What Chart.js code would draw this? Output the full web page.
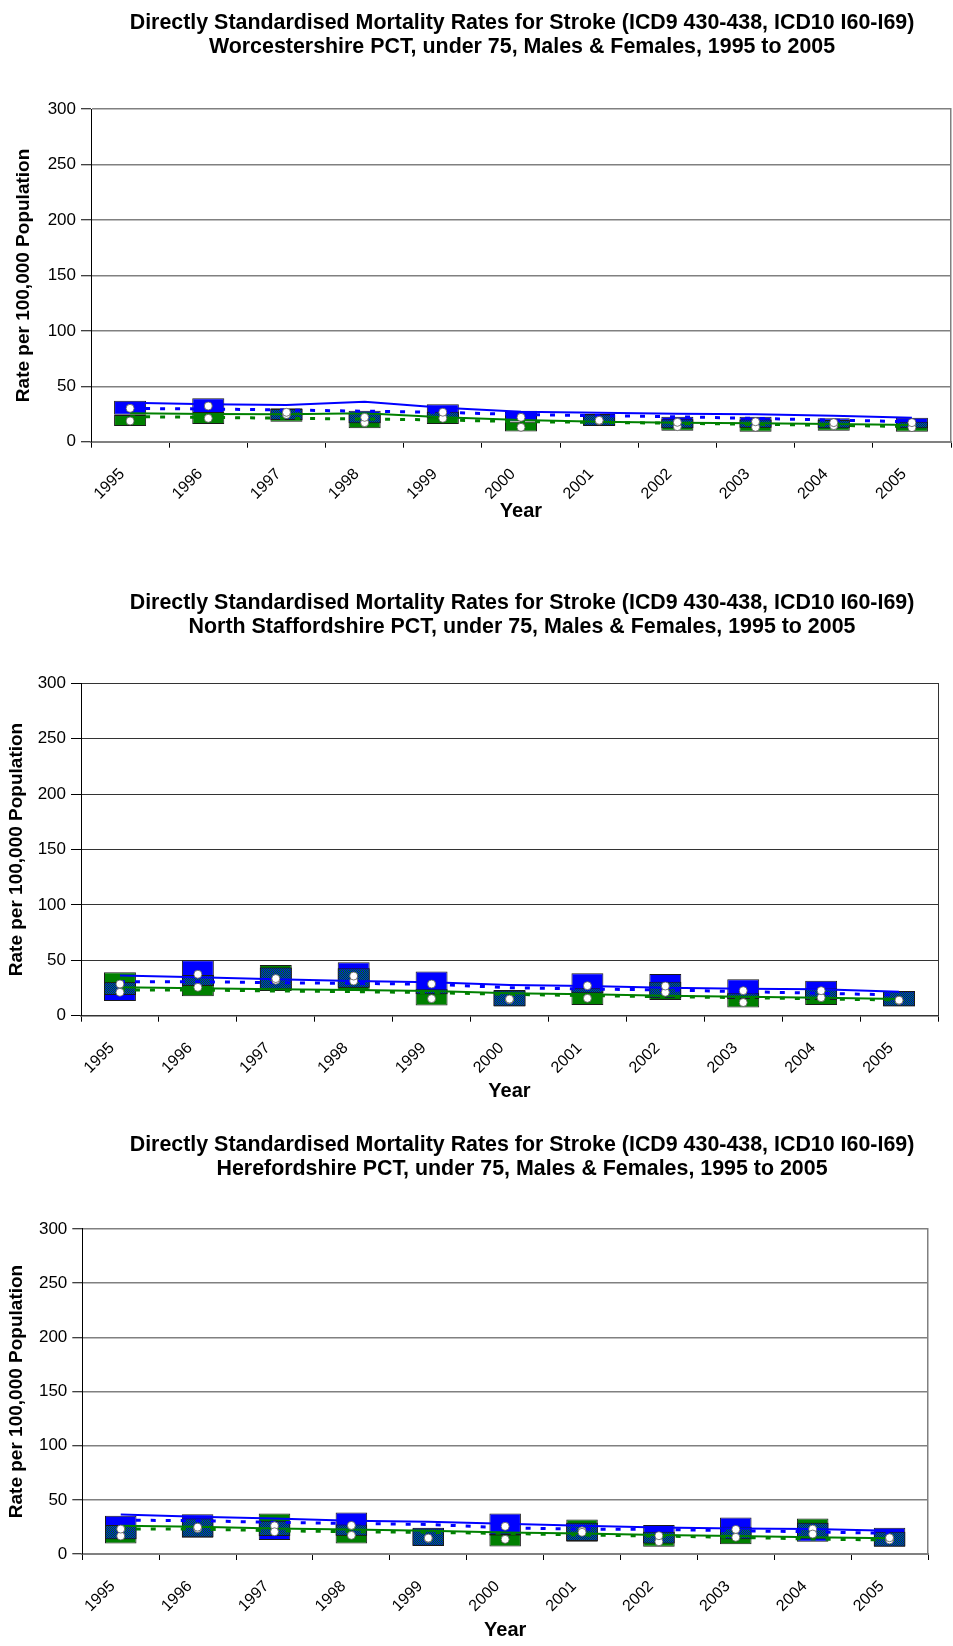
<!DOCTYPE html>
<html><head><meta charset="utf-8">
<script src="https://cdn.jsdelivr.net/npm/chart.js@4.4.1/dist/chart.umd.min.js"></script>
<style>
html,body{margin:0;padding:0;overflow:hidden;background:#fff;width:953px;height:1646px;position:relative}
canvas{position:absolute;left:0}
</style></head>
<body>
<canvas id="c1" width="1044" height="560" style="top:0px"></canvas>
<canvas id="c2" width="1044" height="550" style="top:560px"></canvas>
<canvas id="c3" width="1044" height="546" style="top:1100px"></canvas>
<script>
// ---------- shared categories / ticks ----------
const years = ['1995','1996','1997','1998','1999','2000','2001','2002','2003','2004','2005'];
const yMin = 0, yMax = 300, yStep = 50;

// ---------- Worcestershire PCT ----------
const worcsMaleLow  = [24.3, 25.8, 19.5, 16.6, 21.1, 18.3, 14.5, 12.1, 12.5, 12.1, 12.1];
const worcsMaleHigh = [37.0, 39.1, 30.1, 28.0, 33.7, 28.0, 25.0, 22.6, 22.6, 21.1, 21.6];
const worcsMaleRate = [30.1, 32.2, 26.5, 22.0, 26.6, 22.0, 19.3, 17.5, 18.0, 17.2, 17.2];
const worcsFemLow   = [14.2, 16.0, 18.1, 12.1, 16.0,  9.3, 14.2,  9.9,  9.0,  9.9,  9.0];
const worcsFemHigh  = [24.0, 25.5, 29.5, 26.0, 27.1, 18.0, 24.6, 20.2, 20.0, 19.6, 18.1];
const worcsFemRate  = [18.7, 21.1, 24.5, 17.2, 21.1, 13.0, 18.8, 13.6, 13.0, 14.5, 12.7];
const worcsRefMaleSolid  = [35.2, 33.7, 33.1, 36.1, 30.7, 27.1, 26.2, 25.3, 24.7, 23.5, 21.6];
const worcsRefMaleDashed = [30.0, 29.5, 28.6, 27.5, 26.5, 24.5, 23.5, 22.5, 21.0, 19.5, 18.0];
const worcsRefFemSolid   = [25.6, 25.0, 24.7, 25.6, 22.0, 19.6, 18.1, 17.2, 16.6, 16.0, 15.1];
const worcsRefFemDashed  = [22.6, 22.0, 21.1, 20.5, 19.6, 18.1, 17.5, 16.6, 15.7, 14.8, 13.6];

// ---------- North Staffordshire PCT ----------
const nstaffsMaleLow  = [13.3, 26.8, 23.8, 25.3, 19.3,  8.5, 20.2, 15.7, 15.1, 14.2,  8.5];
const nstaffsMaleHigh = [30.1, 50.0, 43.4, 48.2, 39.8, 22.8, 38.3, 37.7, 32.9, 31.6, 22.3];
const nstaffsMaleRate = [21.1, 37.4, 33.5, 35.8, 28.6, 15.0, 27.1, 26.8, 22.6, 22.6, 14.0];
const nstaffsFemLow   = [18.7, 17.5, 22.3, 23.2,  9.1,  8.2,  9.7, 14.2,  7.3,  9.7,  8.2];
const nstaffsFemHigh  = [39.2, 36.8, 45.8, 42.8, 23.8, 23.2, 24.7, 30.7, 20.2, 24.7, 22.0];
const nstaffsFemRate  = [28.6, 25.6, 32.0, 31.3, 15.4, 14.5, 15.7, 21.1, 11.9, 16.3, 13.8];
const nstaffsRefMaleSolid  = [36.2, 34.7, 32.9, 31.3, 30.1, 27.7, 26.8, 25.3, 24.4, 23.8, 21.7];
const nstaffsRefMaleDashed = [30.7, 30.7, 29.8, 29.2, 28.3, 25.3, 24.1, 23.2, 21.7, 20.2, 18.7];
const nstaffsRefFemSolid   = [25.6, 24.7, 23.8, 23.2, 22.3, 20.2, 19.3, 18.1, 17.2, 16.3, 15.1];
const nstaffsRefFemDashed  = [23.2, 23.2, 22.3, 21.7, 20.8, 19.3, 18.1, 17.2, 16.3, 15.1, 14.2];

// ---------- Herefordshire PCT ----------
const herefMaleLow  = [13.5, 15.5, 12.9, 16.9,  7.6, 17.0, 11.3,  9.8, 13.5, 11.3,  7.0];
const herefMaleHigh = [35.3, 36.8, 30.7, 38.3, 24.2, 37.4, 28.8, 26.7, 33.7, 28.8, 24.2];
const herefMaleRate = [23.0, 24.8, 20.5, 26.4, 14.7, 25.5, 20.0, 16.9, 22.7, 18.4, 15.0];
const herefFemLow   = [ 9.8, 15.0, 16.6,  9.8,  7.4,  7.0, 12.0,  6.7,  8.9, 13.5,  6.7];
const herefFemHigh  = [26.7, 32.8, 37.4, 27.3, 23.5, 19.0, 31.9, 20.5, 25.1, 32.8, 20.5];
const herefFemRate  = [16.6, 23.5, 26.0, 17.2, 14.4, 13.5, 21.4, 11.3, 15.4, 23.0, 13.0];
const herefRefMaleSolid  = [36.5, 34.4, 32.8, 30.6, 29.7, 27.9, 26.1, 24.5, 23.6, 23.0, 21.5];
const herefRefMaleDashed = [31.3, 30.7, 29.2, 28.2, 27.3, 24.2, 23.0, 22.7, 21.5, 20.5, 19.0];
const herefRefFemSolid   = [26.1, 25.2, 23.6, 22.7, 21.5, 19.8, 19.0, 17.5, 16.6, 15.4, 14.5];
const herefRefFemDashed  = [23.0, 23.0, 21.5, 20.5, 20.0, 19.0, 17.5, 16.6, 15.4, 13.8, 12.9];

const titleLine1 = 'Directly Standardised Mortality Rates for Stroke (ICD9 430-438, ICD10 I60-I69)';
const titleLine2Worcs   = 'Worcestershire PCT, under 75, Males & Females, 1995 to 2005';
const titleLine2NStaffs = 'North Staffordshire PCT, under 75, Males & Females, 1995 to 2005';
const titleLine2Heref   = 'Herefordshire PCT, under 75, Males & Females, 1995 to 2005';
const yAxisTitle = 'Rate per 100,000 Population';
const xAxisTitle = 'Year';

// ---------- helpers ----------
const FONT = "'Liberation Sans', Arial, Helvetica, sans-serif";
function overlapPattern(){
  const c = document.createElement('canvas'); c.width = 2; c.height = 2;
  const g = c.getContext('2d');
  g.fillStyle = '#0000ff'; g.fillRect(0,0,2,2);
  g.fillStyle = '#008000'; g.fillRect(0,0,1,1); g.fillRect(1,1,1,1);
  return g.createPattern(c, 'repeat');
}
const PAT = overlapPattern();
function pairs(lo, hi){ return lo.map((v,i)=>[v, hi[i]]); }
function overlap(aLo, aHi, bLo, bHi){
  return aLo.map((v,i)=>{
    const lo = Math.max(v, bLo[i]), hi = Math.min(aHi[i], bHi[i]);
    return lo < hi ? [lo, hi] : null;
  });
}

function build(id, d, L){
  const barCommon = {type:'bar', grouped:false, barPercentage:0.41, categoryPercentage:1,
                     borderColor:'#1a1a1a', borderWidth:1, borderSkipped:false};
  const lineCommon = {type:'line', pointRadius:0, fill:false, tension:0, order:1, borderCapStyle:'butt'};
  const dotCommon = {type:'line', showLine:false, pointRadius:4, pointBackgroundColor:'#ffffff',
                     pointBorderColor:'#555555', pointBorderWidth:0.8, order:0};
  new Chart(document.getElementById(id), {
    type:'bar',
    data:{
      labels: years,
      datasets:[
        Object.assign({label:'Males rate', data:d.mRate}, dotCommon),
        Object.assign({label:'Females rate', data:d.fRate}, dotCommon),
        Object.assign({label:'Males ref', data:d.mSolid, borderColor:'#0000ff', borderWidth:2}, lineCommon),
        Object.assign({label:'Males ref 2', data:d.mDashed, borderColor:'#0000ff', borderWidth:3, borderDash:[5,10]}, lineCommon),
        Object.assign({label:'Females ref', data:d.fSolid, borderColor:'#008000', borderWidth:2}, lineCommon),
        Object.assign({label:'Females ref 2', data:d.fDashed, borderColor:'#008000', borderWidth:3, borderDash:[5,10]}, lineCommon),
        Object.assign({label:'Overlap', data:overlap(d.mLo,d.mHi,d.fLo,d.fHi), backgroundColor:PAT, order:2}, barCommon),
        Object.assign({label:'Males CI', data:pairs(d.mLo,d.mHi), backgroundColor:'#0000ff', order:3}, barCommon),
        Object.assign({label:'Females CI', data:pairs(d.fLo,d.fHi), backgroundColor:'#008000', order:3}, barCommon)
      ]
    },
    options:{
      responsive:false, animation:false, devicePixelRatio:1,
      layout:{padding:0},
      plugins:{
        legend:{display:false}, tooltip:{enabled:false},
        title:{display:true, text:[titleLine1, d.title2], color:'#000',
               font:{family:FONT, size:21.4, weight:'bold', lineHeight:1.13},
               padding:{top:L.titleTop, bottom:L.titleBottom}}
      },
      scales:{
        x:{
          type:'category', offset:true,
          grid:{offset:true, drawOnChartArea:false, drawTicks:true, tickLength:6, tickColor:'#000', color:'#000'},
          border:{display:true, color:L.axisColor, width:L.axisWidth},
          ticks:{autoSkip:false, minRotation:45, maxRotation:45, color:'#000',
                 font:{family:FONT, size:16}, padding:L.xTickPad, labelOffset:-8},
          title:{display:true, text:xAxisTitle, color:'#000', font:{family:FONT, size:20, weight:'bold', lineHeight:1.2},
                 padding:{top:0, bottom:L.yearPad}},
          afterFit:(s)=>{ s.height = L.xHeight; }
        },
        y:{
          type:'linear', min:yMin, max:yMax, position:'left',
          ticks:{stepSize:yStep, color:'#000', font:{family:FONT, size:17}, padding:5},
          grid:{color:L.gridColor, lineWidth:L.gridWidth, tickLength:10, tickColor:'#000', tickWidth:1},
          border:{display:true, color:'#000', width:1},
          title:{display:true, text:yAxisTitle, color:'#000', font:{family:FONT, size:19, weight:'bold', lineHeight:1.2},
                 padding:{top:L.yTitlePad, bottom:0}},
          afterFit:(s)=>{ s.width = L.yWidth; }
        },
        yR:{
          type:'linear', position:'right', min:0, max:1,
          ticks:{display:false}, grid:{display:false, drawOnChartArea:false, drawTicks:false},
          border:{display:true, color:L.gridColor, width:L.gridWidth},
          afterFit:(s)=>{ s.width = L.padRight; }
        }
      }
    }
  });
}

build('c1', {mLo:worcsMaleLow, mHi:worcsMaleHigh, mRate:worcsMaleRate, fLo:worcsFemLow, fHi:worcsFemHigh, fRate:worcsFemRate,
             mSolid:worcsRefMaleSolid, mDashed:worcsRefMaleDashed, fSolid:worcsRefFemSolid, fDashed:worcsRefFemDashed, title2:titleLine2Worcs},
  {padRight:93, titleTop:11, titleBottom:49.8, yWidth:91, yTitlePad:12, xHeight:118.3, yearPad:37, xTickPad:17,
   gridColor:'#808080', gridWidth:1.5, axisColor:'#808080', axisWidth:2});

build('c2', {mLo:nstaffsMaleLow, mHi:nstaffsMaleHigh, mRate:nstaffsMaleRate, fLo:nstaffsFemLow, fHi:nstaffsFemHigh, fRate:nstaffsFemRate,
             mSolid:nstaffsRefMaleSolid, mDashed:nstaffsRefMaleDashed, fSolid:nstaffsRefFemSolid, fDashed:nstaffsRefFemDashed, title2:titleLine2NStaffs},
  {padRight:106, titleTop:31, titleBottom:43.9, yWidth:81, yTitlePad:5.6, xHeight:94.3, yearPad:7, xTickPad:17,
   gridColor:'#333333', gridWidth:1, axisColor:'#333333', axisWidth:1.5});

build('c3', {mLo:herefMaleLow, mHi:herefMaleHigh, mRate:herefMaleRate, fLo:herefFemLow, fHi:herefFemHigh, fRate:herefFemRate,
             mSolid:herefRefMaleSolid, mDashed:herefRefMaleDashed, fSolid:herefRefFemSolid, fDashed:herefRefFemDashed, title2:titleLine2Heref},
  {padRight:116, titleTop:33, titleBottom:47.6, yWidth:82.3, yTitlePad:5.6, xHeight:92, yearPad:4, xTickPad:17,
   gridColor:'#808080', gridWidth:1.5, axisColor:'#808080', axisWidth:2});
</script>
</body></html>
